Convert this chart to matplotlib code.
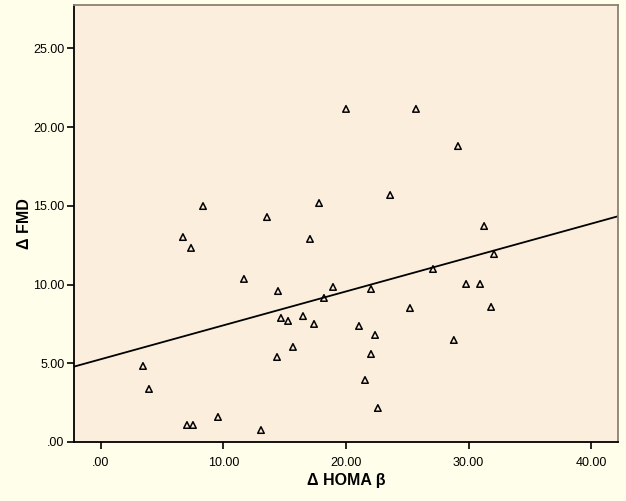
import numpy as np
import matplotlib
matplotlib.use("Agg")
import matplotlib.pyplot as plt
from matplotlib.ticker import FuncFormatter

homa_beta = [3.43, 3.92, 7.02, 7.51, 9.55, 13.06, 6.69, 7.35, 8.33, 11.67,
             13.55, 14.45, 14.69, 15.27, 14.37, 15.67, 16.49, 17.39, 17.06, 17.80,
             18.20, 18.94, 20.00, 21.06, 21.55, 22.04, 22.04, 22.37, 22.60, 23.60,
             25.22, 25.71, 27.10, 28.80, 29.14, 29.80, 30.94, 31.27, 31.84, 32.08]
fmd = [4.83, 3.37, 1.08, 1.08, 1.59, 0.76, 13.02, 12.33, 14.99, 10.36,
       14.29, 9.59, 7.88, 7.69, 5.40, 6.04, 8.00, 7.50, 12.90, 15.18,
       9.15, 9.85, 21.16, 7.37, 3.94, 9.72, 5.59, 6.80, 2.16, 15.69,
       8.51, 21.16, 10.99, 6.48, 18.80, 10.04, 10.04, 13.72, 8.58, 11.94]
x_ticks = [0, 10, 20, 30, 40]
y_ticks = [0, 5, 10, 15, 20, 25]

plt.rcParams['font.family'] = ['Liberation Sans', 'DejaVu Sans']

fig = plt.figure(figsize=(6.26, 5.01), dpi=100, facecolor='#FFFEEA')
ax = fig.add_axes([74/626, 59/501, 544/626, 437/501])
ax.set_facecolor('#FCEEDC')

x = np.array(homa_beta)
y = np.array(fmd)
slope, intercept = np.polyfit(x, y, 1)
xlim = (-2.2, 42.2)
xx = np.array(xlim)
ax.plot(xx, intercept + slope * xx, color='black', lw=1.3, zorder=2)
ax.scatter(x, y, marker='^', s=22, facecolors='none', edgecolors='black',
           linewidths=1.1, zorder=3)

ax.set_xlim(*xlim)
ax.set_ylim(0, 27.76)
ax.set_xticks(x_ticks)
ax.set_yticks(y_ticks)
fmt = FuncFormatter(lambda v, p: ('%.2f' % v).lstrip('0') if v < 1 else '%.2f' % v)
ax.xaxis.set_major_formatter(fmt)
ax.yaxis.set_major_formatter(fmt)
ax.tick_params(direction='out', length=5, width=1.2, labelsize=9, colors='black', pad=2)
ax.tick_params(axis='x', pad=6)
for s in ['left', 'bottom']:
    ax.spines[s].set_color('black')
    ax.spines[s].set_linewidth(1.3)
for s in ['top', 'right']:
    ax.spines[s].set_color('#8C8074')
    ax.spines[s].set_linewidth(1.3)

ax.set_xlabel('Δ HOMA β', fontsize=11.5, fontweight='bold', labelpad=3)
ax.set_ylabel('Δ FMD', fontsize=11.5, fontweight='bold', labelpad=1)

fig.savefig('out.png', dpi=100, facecolor=fig.get_facecolor())
